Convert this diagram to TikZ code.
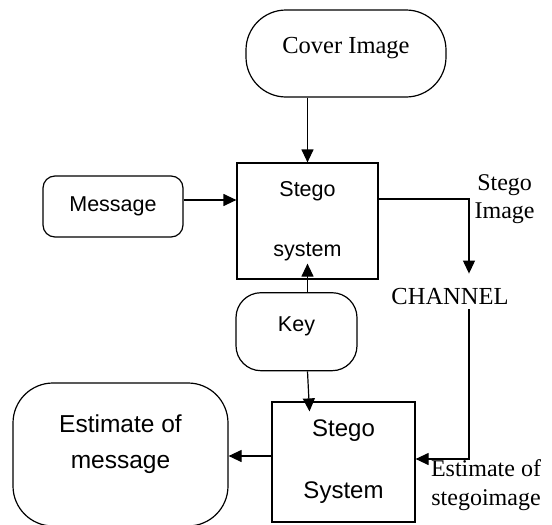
\documentclass[tikz,border=0pt]{standalone}
\usepackage{fontspec}
\setmainfont{Liberation Serif}
\setsansfont{Liberation Sans}
\usetikzlibrary{arrows.meta}
\tikzstyle{terminal} = [rectangle, rounded corners=40pt, draw, line width=1.2pt, minimum width=200pt, minimum height=87pt, text centered, font=\fontsize{24.5}{29}\selectfont, text height=17pt, text depth=17pt]
\tikzstyle{input} = [rectangle, rounded corners=12pt, draw, line width=1.2pt, minimum width=140pt, minimum height=61pt, text centered, font=\sffamily\fontsize{21.5}{26}\selectfont]
\tikzstyle{process} = [rectangle, draw, line width=1.2pt, minimum width=141pt, minimum height=116pt, align=center, font=\sffamily\fontsize{21.5}{60}\selectfont]
\tikzstyle{tag} = [inner sep=0pt, align=center, font=\fontsize{24}{28.5}\selectfont]
\tikzstyle{arrow} = [line width=1.2pt, -{Triangle[length=13pt,width=12pt]}]

\begin{document}
\begin{tikzpicture}[x=1pt, y=-1pt]
        \useasboundingbox (0,0) rectangle (552,525);

        \node (node0) [terminal] at (346,53.5) {Cover Image};
        \node (node1) [input] at (113,206.5) {Message};
        \node (node2) [process] at (307.5,221) {Stego\\system};
        \node (node3) [tag, font=\fontsize{24.5}{29}\selectfont] at (450,297) {CHANNEL};
        \node (node4) [input, minimum width=121pt, minimum height=78pt, rounded corners=25pt, text height=15pt, text depth=15pt] at (296.5,331.7) {Key};
        \node (node5) [process, minimum width=143pt, minimum height=120pt, font=\sffamily\fontsize{24}{62}\selectfont] at (343.5,462) {Stego\\System};
        \node (node6) [terminal, minimum width=215pt, minimum height=143pt, align=center, font=\sffamily\fontsize{24.5}{36}\selectfont, text height=54pt, text depth=27pt] at (120.5,454.5) {Estimate of\\message};

        \draw [arrow] (node2.north |- node0.south) -- (node2.north);
        \draw [arrow] ([yshift=6.5pt]node1.east) -- ([yshift=6.5pt]node1.east -| node2.west);
        \draw [arrow] ([yshift=22pt]node2.east) -| node[tag, anchor=west, xshift=5pt] {Stego\\Image} ([xshift=19pt,yshift=15pt]node3.north);
        \draw [arrow] (node2.south |- node4.north) -- ([yshift=16pt]node2.south);
        \draw [arrow] (node2.south |- node4.south) -- ([xshift=-34pt,yshift=-10pt]node5.north);
        \draw [arrow] ([xshift=19pt,yshift=-4pt]node3.south) |- node[tag, anchor=north, xshift=17pt] {Estimate of\\stegoimage} ([yshift=3pt]node5.east);
        \draw [arrow] ([yshift=6pt]node5.west) -- ([yshift=6pt]node5.west -| node6.east);
\end{tikzpicture}
\end{document}
